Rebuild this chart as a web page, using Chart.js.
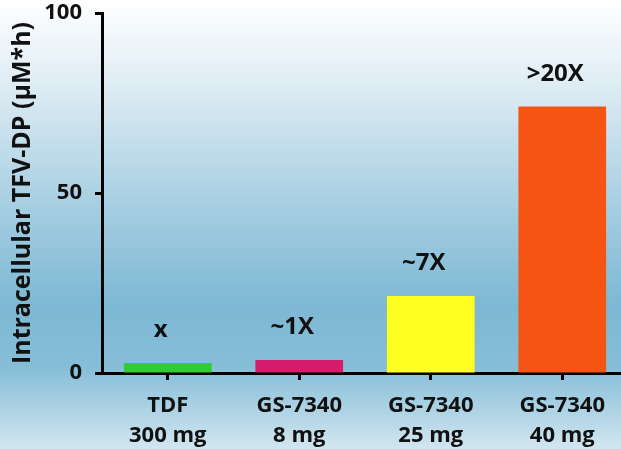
<!DOCTYPE html>
<html lang="en">
<head>
<meta charset="UTF-8">
<title>Intracellular TFV-DP</title>
<script src="https://cdn.jsdelivr.net/npm/chart.js"></script>
<style>
    html, body { margin: 0; padding: 0; overflow: hidden; background: #fff; }
    #wrap { width: 628px; height: 449px; }
</style>
</head>
<body>
<div id="wrap"><canvas id="myChart" width="628" height="449"></canvas></div>

<script>
    // data
    const groups = [['TDF', '300 mg'], ['GS-7340', '8 mg'], ['GS-7340', '25 mg'], ['GS-7340', '40 mg']];
    const tfvdp = [2.8, 3.6, 21.4, 74];
    const foldLabels = ['x', '~1X', '~7X', '>20X'];
    const barColors = ['#33cc33', '#d41c6a', '#ffff22', '#f55413'];
    const yTicks = [0, 50, 100];

    const fontFam = '"Open Sans", "Liberation Sans", sans-serif';

    // sky-like background behind everything
    const bgPlugin = {
        id: 'bg',
        beforeDraw(chart) {
            const c = chart.ctx;
            const g = c.createLinearGradient(0, 0, 0, chart.height);
            g.addColorStop(0, '#ffffff');
            g.addColorStop(0.2, '#dcebf3');
            g.addColorStop(0.45, '#a8cfe2');
            g.addColorStop(0.68, '#7db8d4');
            g.addColorStop(0.82, '#86bed8');
            g.addColorStop(1, '#d2e6f0');
            c.save();
            c.fillStyle = g;
            c.fillRect(0, 0, chart.width, chart.height);
            c.restore();
        }
    };

    // fold-change text above each bar
    const foldPlugin = {
        id: 'fold',
        afterDatasetsDraw(chart) {
            const c = chart.ctx;
            const meta = chart.getDatasetMeta(0);
            c.save();
            c.font = 'bold 24px ' + fontFam;
            c.fillStyle = '#111';
            c.textAlign = 'center';
            c.textBaseline = 'alphabetic';
            meta.data.forEach((bar, i) => {
                c.fillText(foldLabels[i], bar.x - 7, bar.y - 26);
            });
            c.restore();
        }
    };

    new Chart(document.getElementById('myChart'), {
        type: 'bar',
        data: {
            labels: groups,
            datasets: [{
                data: tfvdp,
                backgroundColor: barColors,
                barPercentage: 0.667,
                categoryPercentage: 1
            }]
        },
        options: {
            responsive: false,
            animation: false,
            layout: { padding: { top: 13, right: 0, left: 0, bottom: 0 } },
            plugins: { legend: { display: false }, tooltip: { enabled: false } },
            scales: {
                x: {
                    grid: { drawOnChartArea: false, tickLength: 7, tickWidth: 3, tickColor: '#000', offset: false },
                    border: { color: '#000', width: 3 },
                    ticks: { color: '#111', font: { family: fontFam, size: 22, weight: 'bold', lineHeight: 1.35 }, padding: 11, maxRotation: 0 },
                    afterFit(scale) { scale.height = 76; }
                },
                y: {
                    min: 0,
                    max: 100,
                    afterBuildTicks(scale) { scale.ticks = yTicks.map(v => ({ value: v })); },
                    grid: { drawOnChartArea: false, tickLength: 7, tickWidth: 3, tickColor: '#000' },
                    border: { color: '#000', width: 3 },
                    ticks: { color: '#111', font: { family: fontFam, size: 22, weight: 'bold' }, padding: 13 },
                    title: {
                        display: true,
                        text: 'Intracellular TFV-DP (µM*h)',
                        color: '#111',
                        font: { family: fontFam, size: 25, weight: 'bold' },
                        padding: { top: 8, bottom: 0 }
                    },
                    afterFit(scale) {
                        scale.width = 102;
                        scale.paddingTop = 0;
                        scale.paddingBottom = 0;
                    }
                }
            }
        },
        plugins: [bgPlugin, foldPlugin]
    });
</script>
</body>
</html>
